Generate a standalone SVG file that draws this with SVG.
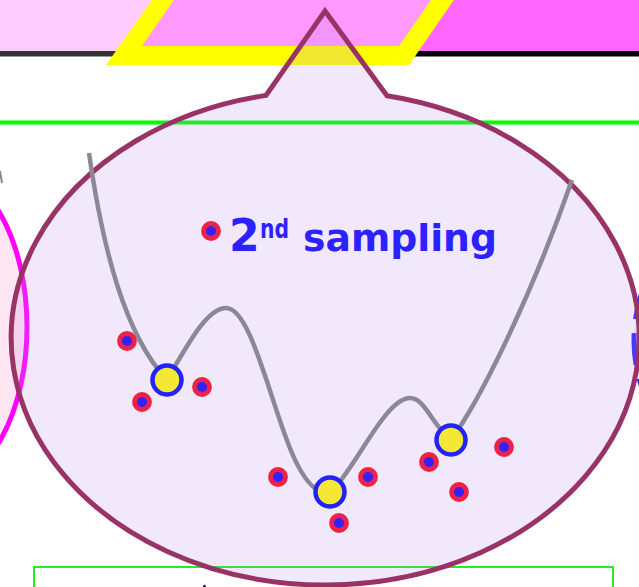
<svg xmlns="http://www.w3.org/2000/svg" width="639" height="587" viewBox="0 0 639 587">
<style>
.dot{fill:#3322FF;stroke:#EE2244;stroke-width:4.8}
.min{fill:#F4E834;stroke:#2222FF;stroke-width:4.5}
.lbl{font-family:"DejaVu Sans","Liberation Sans",sans-serif;font-weight:bold;fill:#2B22FF}
</style>
<rect width="639" height="587" fill="#FFFFFF"/>
<g id="top-band">
  <rect x="0" y="0" width="330" height="51" fill="#FFCCFF"/>
  <rect x="330" y="0" width="309" height="51" fill="#FF66FF"/>
  <rect x="0" y="51" width="330" height="5.5" fill="#333333"/>
  <rect x="330" y="51" width="309" height="5.5" fill="#000000"/>
  <polygon points="152,0 106,65 409,65 454,0" fill="#FFFF00"/>
  <polygon points="174,0 142,46 399,46 431,0" fill="#FF99FF"/>
</g>
<rect x="0" y="120.5" width="639" height="4" fill="#00FF00"/>
<line x1="0" y1="171" x2="2" y2="183" stroke="#888888" stroke-width="2"/>
<g id="left-ellipse">
  <ellipse cx="-60" cy="327" rx="87" ry="157" fill="#FFE6F2" stroke="#FF00FF" stroke-width="5"/>
</g>
<g id="right-ellipse">
  <ellipse cx="700" cy="340" rx="66" ry="100" fill="#EAEAFF" stroke="#2B22FF" stroke-width="5" stroke-dasharray="32 14" stroke-dashoffset="-8"/>
</g>
<g id="bottom-box">
  <rect x="34" y="567" width="579" height="40" fill="#FFFFFF" stroke="#22EE22" stroke-width="2"/>
  <circle cx="204.5" cy="586.2" r="1.4" fill="#1A1A6E"/>
</g>
<g id="callout">
  <path d="M266,95.4 L325,11 L387,95.8 A314,247 0 1 1 266,95.4 Z" fill="#BE8CF0" fill-opacity="0.2" stroke="#993366" stroke-width="5" stroke-linejoin="miter"/>
</g>
<g id="connectors">
  <path d="M89,153 C103,250 125,335 167,380 C190,340 208,308 226,308 C248,308 265,380 285,435 C300,478 315,495 330,493 C355,470 385,398 410,398 C425,398 432,425 451,440 C480,400 530,300 572,180" fill="none" stroke="#8C8796" stroke-width="4.5"/>
</g>
<g id="minima">
  <circle class="min" cx="167" cy="380" r="14.5"/>
  <circle class="min" cx="330" cy="492" r="14.5"/>
  <circle class="min" cx="451" cy="440" r="14.5"/>
</g>
<g id="samples">
  <circle class="dot" cx="127" cy="341" r="7.5"/>
  <circle class="dot" cx="202" cy="387" r="7.5"/>
  <circle class="dot" cx="142" cy="402" r="7.5"/>
  <circle class="dot" cx="278" cy="477" r="7.5"/>
  <circle class="dot" cx="368" cy="477" r="7.5"/>
  <circle class="dot" cx="339" cy="523" r="7.5"/>
  <circle class="dot" cx="429" cy="462" r="7.5"/>
  <circle class="dot" cx="459" cy="492" r="7.5"/>
  <circle class="dot" cx="504" cy="447" r="7.5"/>
</g>
<g id="legend">
  <circle class="dot" cx="211" cy="231" r="7.5"/>
  <text class="lbl" x="229" y="251" font-size="44">2</text>
  <text class="lbl" x="260" y="238" font-size="26" textLength="29" lengthAdjust="spacingAndGlyphs">nd</text>
  <text class="lbl" x="303" y="251" font-size="38" textLength="194" lengthAdjust="spacingAndGlyphs">sampling</text>
</g>
</svg>
